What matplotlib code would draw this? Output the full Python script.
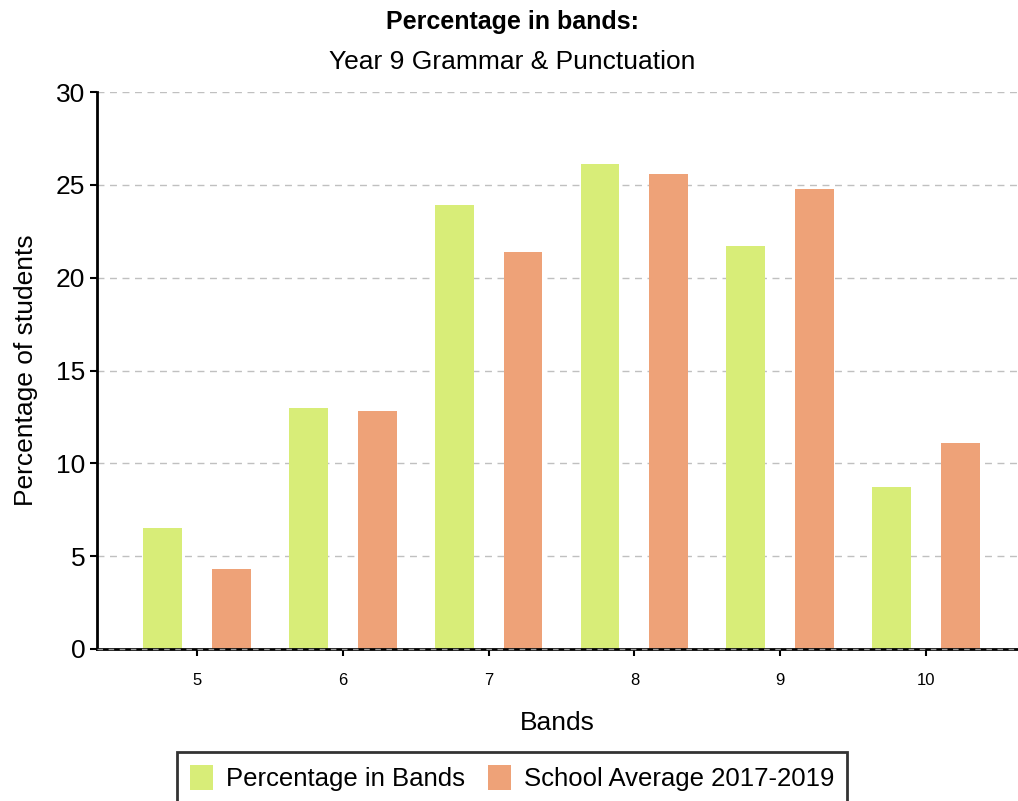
import numpy as np
from matplotlib import pyplot as plt

plt.rcParams['font.family'] = ['Liberation Sans', 'DejaVu Sans']

# data
bands = ['5', '6', '7', '8', '9', '10']
pct_in_bands = [6.5, 13.0, 23.9, 26.1, 21.7, 8.7]
school_avg = [4.3, 12.8, 21.4, 25.6, 24.8, 11.1]
y_ticks = [0, 5, 10, 15, 20, 25, 30]

green = '#d8ed78'
orange = '#eea278'

fig = plt.figure(figsize=(10.18, 8.01), dpi=100)
ax = fig.add_axes([0.0953, 0.1898, 0.9047, 0.6953])

x = np.arange(len(bands))
w = 0.267
off = 0.236
ax.bar(x - off, pct_in_bands, w, color=green, label='Percentage in Bands', zorder=2)
ax.bar(x + off, school_avg, w, color=orange, label='School Average 2017-2019', zorder=2)

ax.set_xlim(-0.685, 5.63)
ax.set_ylim(0, 30)
ax.set_yticks(y_ticks)
ax.set_xticks(x)
ax.set_xticklabels(bands)
ax.tick_params(axis='y', labelsize=19, length=5, width=1.5, direction='out')
ax.tick_params(axis='x', labelsize=12, length=5, width=1.5, direction='out', pad=12)

# grid and spines
ax.grid(axis='y', color='#c0c0c0', linestyle=(0, (5, 4)), linewidth=1, zorder=0)
ax.set_axisbelow(True)
ax.spines['top'].set_visible(False)
ax.spines['right'].set_visible(False)
ax.spines['left'].set_linewidth(2)
ax.spines['bottom'].set_linewidth(2)
ax.axhline(0, color='#999999', linestyle=(0, (4, 4)), linewidth=1, zorder=3, clip_on=False)

ax.set_ylabel('Percentage of students', fontsize=19, labelpad=13)
ax.set_xlabel('Bands', fontsize=19, labelpad=17)

fig.text(0.503, 0.972, 'Percentage in bands:', ha='center', va='center',
         fontsize=18, fontweight='bold')
fig.text(0.503, 0.922, 'Year 9 Grammar & Punctuation', ha='center', va='center',
         fontsize=19)

leg = fig.legend(loc='upper center', bbox_to_anchor=(0.503, 0.061), ncol=2,
                 fontsize=18.5, frameon=True, fancybox=False, edgecolor='black',
                 handlelength=0.9, handleheight=1.1, handletextpad=0.5,
                 columnspacing=0.9, borderpad=0.5, borderaxespad=0)
leg.get_frame().set_linewidth(2)

fig.savefig('out.png', dpi=100)
